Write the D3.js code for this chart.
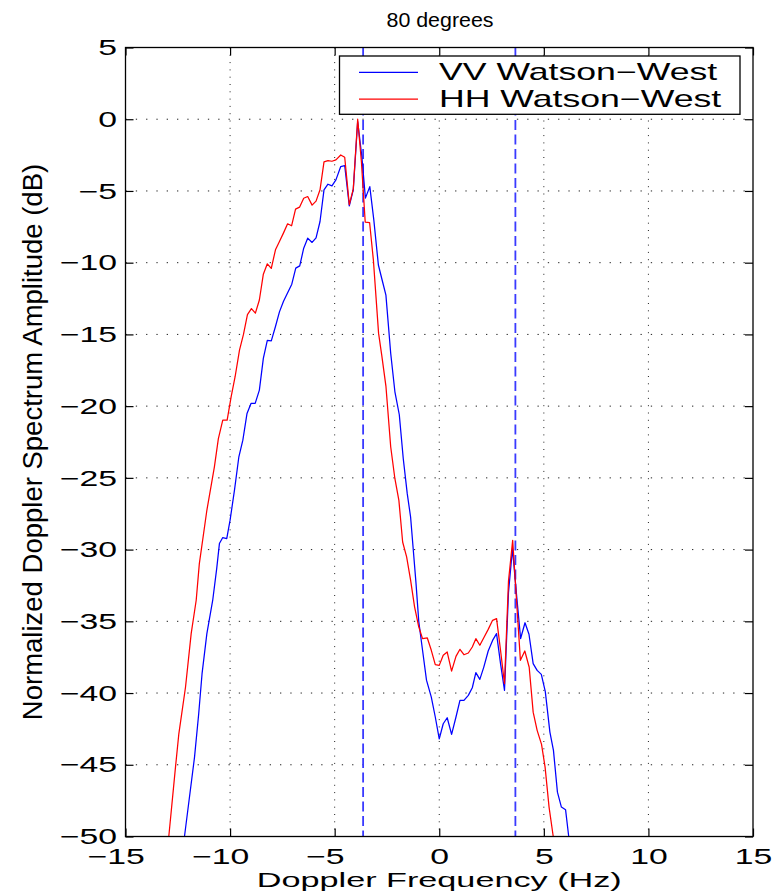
<!DOCTYPE html>
<html>
<head>
<meta charset="utf-8">
<script src="https://cdn.jsdelivr.net/npm/d3@7/dist/d3.min.js"></script>
<style>
  body { margin: 0; background: #fff; }
  svg { display: block; }
  text { font-family: "Liberation Sans", Arial, Helvetica, sans-serif; fill: #000; }
</style>
</head>
<body>
<svg id="chart" width="778" height="894"></svg>
<script>
// Doppler spectra at 80 degrees incidence (frequency in Hz, amplitude in dB)
const vvFreq = [-12.18, -11.70, -11.50, -11.34, -11.11, -10.83, -10.64, -10.51, -10.35, -10.16,
  -10.00, -9.79, -9.58, -9.39, -9.19, -9.00, -8.80, -8.60, -8.41, -8.22,
  -8.03, -7.83, -7.64, -7.45, -7.26, -7.05, -6.86, -6.67, -6.48, -6.29,
  -6.08, -5.89, -5.70, -5.51, -5.32, -5.13, -4.94, -4.71, -4.52, -4.30,
  -4.11, -3.90, -3.70, -3.53, -3.32, -3.13, -2.91, -2.71, -2.55, -2.32,
  -2.12, -1.91, -1.72, -1.53, -1.37, -1.24, -1.11, -0.98, -0.80, -0.61,
  -0.38, -0.19, 0.00, 0.19, 0.38, 0.59, 0.80, 0.99, 1.18, 1.39,
  1.58, 1.75, 1.94, 2.13, 2.34, 2.55, 2.74, 2.93, 3.12, 3.31,
  3.50, 3.69, 3.89, 4.10, 4.29, 4.49, 4.68, 4.88, 5.07, 5.29,
  5.46, 5.65, 5.84, 6.04, 6.19];
const vvDb = [-50.0, -44.47, -41.44, -38.65, -35.86, -33.53, -31.33, -29.58, -29.16, -29.23,
  -27.95, -25.86, -23.53, -22.37, -20.51, -19.81, -19.81, -18.88, -16.67, -15.42,
  -15.45, -14.45, -13.43, -12.70, -12.13, -11.50, -10.38, -10.22, -8.99, -8.29,
  -8.59, -8.27, -7.13, -4.92, -4.53, -4.65, -4.23, -3.30, -3.23, -6.04,
  -4.92, -0.16, -2.60, -5.50, -4.70, -7.00, -10.16, -11.33, -12.26, -16.33,
  -19.00, -20.60, -23.67, -26.10, -27.73, -30.05, -32.37, -35.00, -37.00, -39.10,
  -40.28, -41.67, -43.19, -42.14, -41.72, -42.88, -41.67, -40.51, -40.51, -40.16,
  -39.63, -38.58, -39.05, -38.19, -37.07, -36.33, -35.86, -37.95, -39.81, -33.00,
  -29.93, -33.07, -36.20, -35.10, -35.90, -37.95, -38.42, -38.70, -39.90, -42.72,
  -44.00, -46.91, -47.95, -48.14, -50.0];

const hhFreq = [-12.93, -12.61, -12.45, -12.13, -11.86, -11.62, -11.47, -11.11, -10.75, -10.56,
  -10.35, -10.14, -9.95, -9.76, -9.55, -9.36, -9.17, -8.98, -8.79, -8.60,
  -8.41, -8.22, -8.03, -7.83, -7.64, -7.45, -7.25, -7.06, -6.87, -6.68,
  -6.48, -6.29, -6.08, -5.89, -5.70, -5.51, -5.32, -5.13, -4.94, -4.71,
  -4.52, -4.30, -4.11, -3.90, -3.72, -3.54, -3.33, -3.15, -2.90, -2.75,
  -2.55, -2.32, -2.12, -1.93, -1.75, -1.56, -1.37, -1.18, -0.98, -0.80,
  -0.57, -0.38, -0.19, 0.00, 0.19, 0.38, 0.59, 0.80, 0.99, 1.18,
  1.39, 1.58, 1.75, 1.94, 2.13, 2.34, 2.55, 2.74, 2.93, 3.12,
  3.31, 3.51, 3.88, 4.09, 4.30, 4.49, 4.68, 4.89, 5.06, 5.25,
  5.45];
const hhDb = [-50.0, -45.16, -42.84, -39.58, -35.86, -33.53, -30.98, -27.26, -24.23, -22.26,
  -20.98, -20.98, -19.35, -17.95, -16.10, -15.00, -13.62, -13.20, -13.52, -12.60,
  -10.80, -10.08, -10.40, -9.10, -8.53, -7.94, -7.29, -7.43, -6.27, -6.13,
  -5.51, -5.39, -5.99, -5.71, -4.92, -2.97, -2.88, -2.93, -2.83, -2.49,
  -2.65, -5.95, -4.85, 0.00, -3.00, -7.17, -7.20, -9.80, -14.93, -16.44,
  -18.60, -22.85, -25.06, -26.57, -29.47, -30.51, -32.13, -33.99, -35.38, -36.21,
  -36.16, -37.02, -38.02, -38.07, -37.37, -37.14, -38.47, -37.44, -36.95, -37.33,
  -37.21, -36.79, -36.21, -36.67, -36.14, -35.56, -34.93, -34.81, -37.02, -39.35,
  -32.20, -29.35, -37.72, -37.07, -38.20, -41.33, -42.60, -43.58, -45.16, -47.95,
  -50.0];

const seriesNames = ["VV Watson\u2212West", "HH Watson\u2212West"];
const seriesColors = ["#0000ff", "#ff0000"];
const markerFreqs = [-3.64, 3.64];
const xTicks = [-15, -10, -5, 0, 5, 10, 15];
const yTicks = [5, 0, -5, -10, -15, -20, -25, -30, -35, -40, -45, -50];
const titleText = "80 degrees";
const xLabelText = "Doppler Frequency (Hz)";
const yLabelText = "Normalized Doppler Spectrum Amplitude (dB)";

const plot = { left: 125.5, right: 753, top: 47.5, bottom: 836.5 };
const TICK_FONT = 22.5, TICK_STRETCH = 1.5;   // wide glyphs of the tick labels
const fmt = v => (v < 0 ? "\u2212" + Math.abs(v) : String(v));

const svg = d3.select("#chart");
const x = d3.scaleLinear().domain([-15, 15]).range([plot.left, plot.right]);
const y = d3.scaleLinear().domain([-50, 5]).range([plot.bottom, plot.top]);

svg.append("defs").append("clipPath").attr("id", "plotClip")
  .append("rect")
  .attr("x", plot.left).attr("y", plot.top)
  .attr("width", plot.right - plot.left).attr("height", plot.bottom - plot.top);

// dotted grid
const grid = svg.append("g");
grid.selectAll("line.gx").data(xTicks.filter(t => t > -15 && t < 15)).join("line")
  .attr("x1", d => x(d)).attr("x2", d => x(d))
  .attr("y1", plot.top).attr("y2", plot.bottom)
  .attr("stroke", "#222").attr("stroke-width", 1).attr("stroke-dasharray", "1,6.3");
grid.selectAll("line.gy").data(yTicks.filter(t => t < 5 && t > -50)).join("line")
  .attr("x1", plot.left).attr("x2", plot.right)
  .attr("y1", d => y(d)).attr("y2", d => y(d))
  .attr("stroke", "#222").attr("stroke-width", 1).attr("stroke-dasharray", "1.3,9");

// dashed markers at the Bragg frequencies
svg.append("g").selectAll("line").data(markerFreqs).join("line")
  .attr("x1", d => x(d)).attr("x2", d => x(d))
  .attr("y1", plot.top).attr("y2", plot.bottom)
  .attr("stroke", "#3a3aff").attr("stroke-width", 1.8)
  .attr("stroke-dasharray", "10,4.5");

// spectra
const line = d3.line().x(d => x(d[0])).y(d => y(d[1]));
const series = [d3.zip(vvFreq, vvDb), d3.zip(hhFreq, hhDb)];
svg.append("g").attr("clip-path", "url(#plotClip)")
  .selectAll("path").data(series).join("path")
  .attr("d", line)
  .attr("fill", "none")
  .attr("stroke", (d, i) => seriesColors[i])
  .attr("stroke-width", 1.25)
  .attr("stroke-linejoin", "round");

// axes: inward ticks on all four sides
const tickLen = 8;
const gBottom = svg.append("g").attr("transform", `translate(0,${plot.bottom})`)
  .call(d3.axisBottom(x).tickValues(xTicks).tickSize(-tickLen).tickPadding(10).tickFormat(fmt));
const gLeft = svg.append("g").attr("transform", `translate(${plot.left},0)`)
  .call(d3.axisLeft(y).tickValues(yTicks).tickSize(-tickLen).tickPadding(8.5).tickFormat(fmt));
svg.append("g").attr("transform", `translate(0,${plot.top})`)
  .call(d3.axisTop(x).tickValues(xTicks).tickSize(-tickLen).tickFormat(""));
svg.append("g").attr("transform", `translate(${plot.right},0)`)
  .call(d3.axisRight(y).tickValues(yTicks).tickSize(-tickLen).tickFormat(""));

svg.selectAll(".domain").remove();
svg.selectAll(".tick line").attr("stroke", "#000").attr("stroke-width", 1.2);
svg.selectAll(".tick text").attr("font-size", TICK_FONT).attr("font-family", null);
// digits centred on the tick, the minus sign hanging to the left
gBottom.selectAll(".tick text")
  .attr("x", d => (d < 0 ? -0.292 * TICK_FONT : 0))
  .attr("y", 0).attr("dy", null)
  .attr("transform", `translate(0,27) scale(${TICK_STRETCH},1)`);
gLeft.selectAll(".tick text")
  .attr("x", -8.5 / TICK_STRETCH)
  .attr("transform", `scale(${TICK_STRETCH},1)`);

svg.append("rect")
  .attr("x", plot.left).attr("y", plot.top)
  .attr("width", plot.right - plot.left).attr("height", plot.bottom - plot.top)
  .attr("fill", "none").attr("stroke", "#000").attr("stroke-width", 1.3);

// legend
const legend = { x0: 339.5, y0: 56, x1: 740, y1: 114.3 };
const lg = svg.append("g");
lg.append("rect")
  .attr("x", legend.x0).attr("y", legend.y0)
  .attr("width", legend.x1 - legend.x0).attr("height", legend.y1 - legend.y0)
  .attr("fill", "#fff").attr("stroke", "#000").attr("stroke-width", 1.3);
const rows = lg.selectAll("g.row").data(seriesNames).join("g")
  .attr("transform", (d, i) => `translate(0,${72.3 + i * 26.7})`);
rows.append("line")
  .attr("x1", 359).attr("x2", 418).attr("y1", 0).attr("y2", 0)
  .attr("stroke", (d, i) => seriesColors[i]).attr("stroke-width", 1.25);
rows.append("text")
  .attr("transform", "translate(439,8) scale(1.55,1)")
  .attr("font-size", 23)
  .text(d => d);

// title and axis labels
svg.append("text")
  .attr("transform", "translate(440,27) scale(1.07,1)")
  .attr("text-anchor", "middle").attr("font-size", 20)
  .text(titleText);
svg.append("text")
  .attr("transform", `translate(${(plot.left + plot.right) / 2},887) scale(1.63,1)`)
  .attr("text-anchor", "middle").attr("font-size", 21)
  .text(xLabelText);
svg.append("text")
  .attr("transform", `translate(42,${(plot.top + plot.bottom) / 2}) rotate(-90)`)
  .attr("text-anchor", "middle").attr("font-size", 27.5)
  .text(yLabelText);
</script>
</body>
</html>
